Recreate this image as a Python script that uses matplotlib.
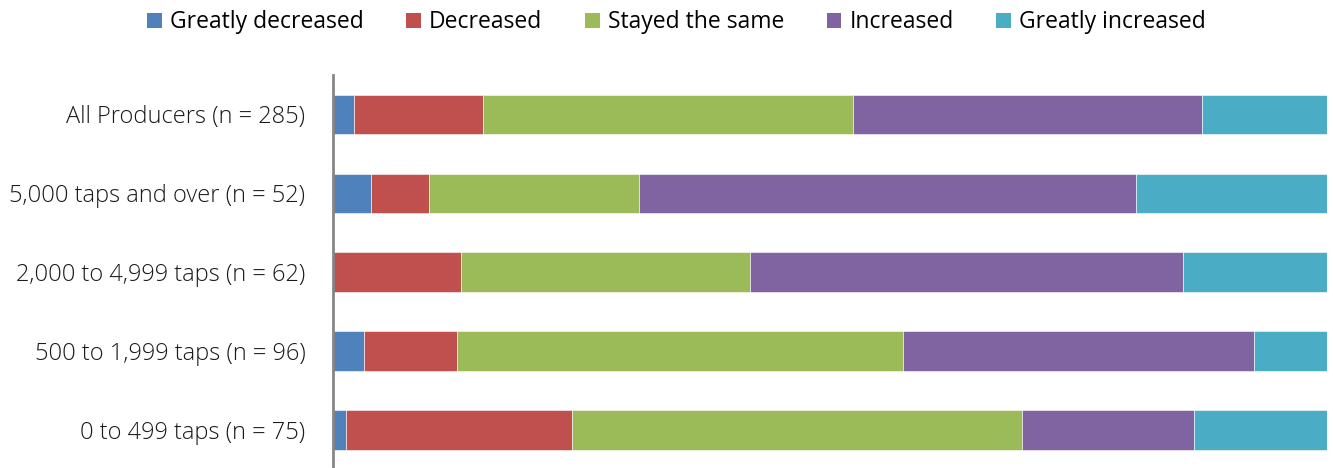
import matplotlib
matplotlib.use("Agg")
import matplotlib.pyplot as plt
from matplotlib.patches import Patch
import numpy as np

categories = ["All Producers (n = 285)", "5,000 taps and over (n = 52)",
              "2,000 to 4,999 taps (n = 62)", "500 to 1,999 taps (n = 96)",
              "0 to 499 taps (n = 75)"]
series_names = ["Greatly decreased", "Decreased", "Stayed the same", "Increased", "Greatly increased"]
greatly_decreased = [2.1, 3.8, 0.0, 3.1, 1.3]
decreased = [13.0, 5.8, 12.9, 9.4, 22.7]
stayed_same = [37.2, 21.2, 29.0, 44.8, 45.3]
increased = [35.1, 50.0, 43.6, 35.4, 17.3]
greatly_increased = [12.6, 19.2, 14.5, 7.3, 13.4]
colors = ["#4F81BD", "#C0504D", "#9BBB59", "#8064A2", "#4BACC6"]

series = [greatly_decreased, decreased, stayed_same, increased, greatly_increased]

plt.rcParams['font.family'] = ['Open Sans', 'DejaVu Sans']

fig = plt.figure(figsize=(13.33, 4.68), dpi=100)
ax = fig.add_axes([0.25, -0.003, 0.7453, 0.843])

y = np.arange(len(categories))
left = np.zeros(len(categories))
for vals, c in zip(series, colors):
    v = np.array(vals)
    ax.barh(y, v, left=left, height=0.5, color=c, edgecolor='white', linewidth=0.4)
    left += v

ax.set_xlim(0, 100)
ax.set_ylim(len(categories) - 0.5, -0.5)
ax.set_yticks(y)
ax.set_yticklabels(categories, fontsize=17, color='#1a1a1a', fontweight='light')
ax.tick_params(axis='y', length=0, pad=20)
ax.set_xticks([])
for s in ['top', 'right', 'bottom']:
    ax.spines[s].set_visible(False)
ax.spines['left'].set_color('#868686')
ax.spines['left'].set_linewidth(2)

handles = [Patch(facecolor=c, edgecolor='none') for c in colors]
fig.legend(handles, series_names, loc='upper center', bbox_to_anchor=(0.5075, 1.022),
           ncol=5, frameon=False, handlelength=0.65, handleheight=0.65,
           handletextpad=0.35, columnspacing=1.85,
           prop={'family': ['Open Sans', 'DejaVu Sans'], 'size': 16.5})

fig.savefig("out.png", dpi=100)
